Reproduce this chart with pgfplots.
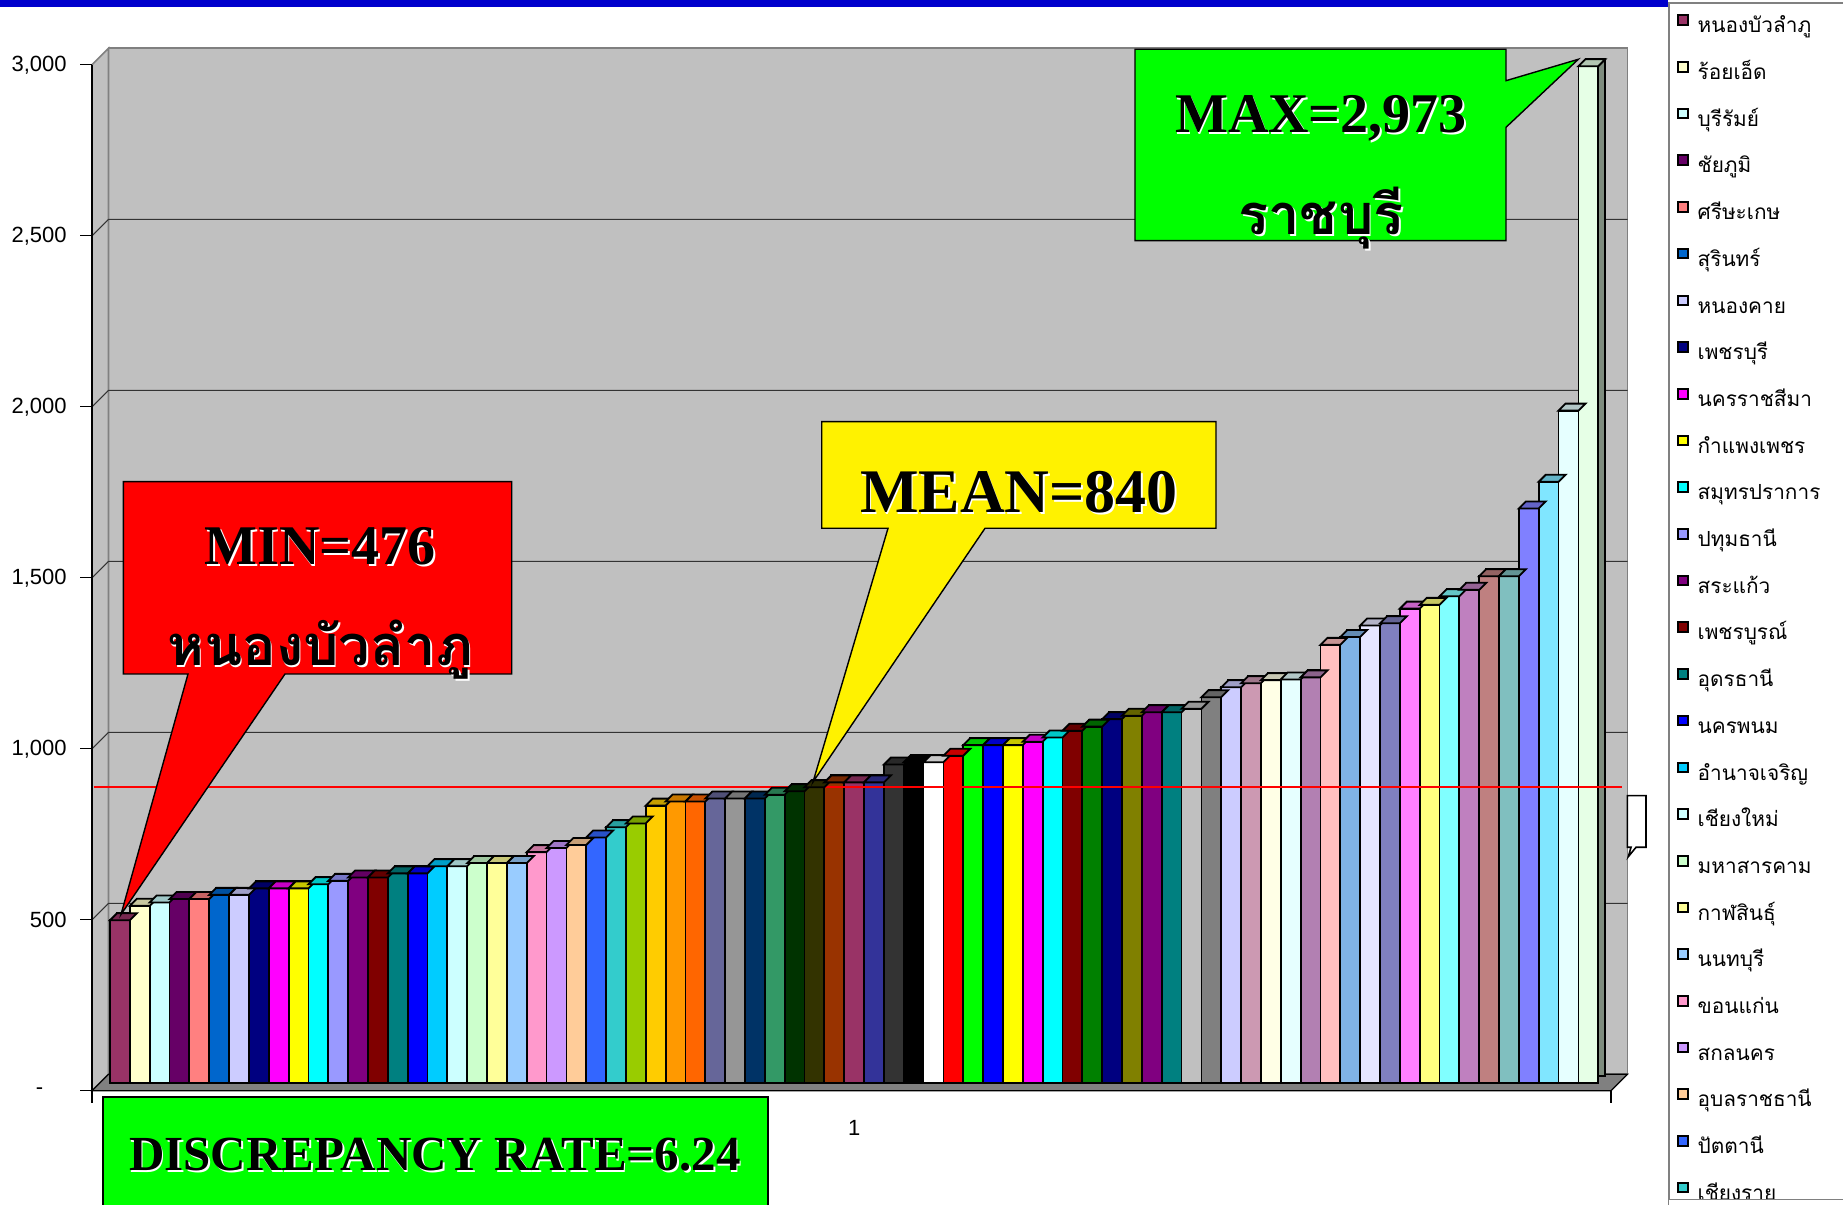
\documentclass[border=0pt]{standalone}
\usepackage{pgfplots}
\pgfplotsset{compat=1.18}
\usepackage{fontspec}
\setmainfont{Liberation Serif}
\newfontfamily\sansf{Liberation Sans}
\newfontfamily\thaif[Script=Thai]{Loma}

% bar face colours (solid, then dotted ones mixed with white)
\newcommand\solid[2]{\definecolor{f#1}{HTML}{#2}}
\newcommand\patt[2]{\definecolor{t#1}{HTML}{#2}\colorlet{f#1}{t#1!50!white}}
\solid{1}{993366}\solid{2}{FFFFCC}\solid{3}{CCFFFF}\solid{4}{660066}\solid{5}{FF8080}
\solid{6}{0066CC}\solid{7}{CCCCFF}\solid{8}{000080}\solid{9}{FF00FF}\solid{10}{FFFF00}
\solid{11}{00FFFF}\solid{12}{9999FF}\solid{13}{800080}\solid{14}{800000}\solid{15}{008080}
\solid{16}{0000FF}\solid{17}{00CCFF}\solid{18}{CCFFFF}\solid{19}{CCFFCC}\solid{20}{FFFF99}
\solid{21}{99CCFF}\solid{22}{FF99CC}\solid{23}{CC99FF}\solid{24}{FFCC99}\solid{25}{3366FF}
\solid{26}{33CCCC}\solid{27}{99CC00}\solid{28}{FFCC00}\solid{29}{FF9900}\solid{30}{FF6600}
\solid{31}{666699}\solid{32}{969696}\solid{33}{003366}\solid{34}{339966}\solid{35}{003300}
\solid{36}{333300}\solid{37}{993300}\solid{38}{993366}\solid{39}{333399}\solid{40}{333333}
\solid{41}{000000}\solid{42}{FFFFFF}\solid{43}{FF0000}\solid{44}{00FF00}\solid{45}{0000FF}
\solid{46}{FFFF00}\solid{47}{FF00FF}\solid{48}{00FFFF}\solid{49}{800000}\solid{50}{008000}
\solid{51}{000080}\solid{52}{808000}\solid{53}{800080}\solid{54}{008080}\solid{55}{C0C0C0}
\solid{56}{808080}
\patt{57}{9999FF}\patt{58}{993366}\patt{59}{FFFFCC}\patt{60}{CCFFFF}\patt{61}{660066}
\patt{62}{FF8080}\patt{63}{0066CC}\patt{64}{CCCCFF}\patt{65}{000080}\patt{66}{FF00FF}
\patt{67}{FFFF00}\patt{68}{00FFFF}\patt{69}{800080}\patt{70}{800000}\patt{71}{008080}
\patt{72}{0000FF}\patt{73}{00CCFF}\patt{74}{CCFFFF}\patt{75}{CCFFCC}
\definecolor{wall}{HTML}{C0C0C0}
\definecolor{floorc}{HTML}{808080}
\definecolor{topblue}{HTML}{0000CC}

% top face of a column, drawn at the column's top centre
\pgfdeclareplotmark{topface}{%
  \pgfpathmoveto{\pgfpoint{-4.961pt}{0pt}}%
  \pgfpathlineto{\pgfpoint{4.961pt}{0pt}}%
  \pgfpathlineto{\pgfpoint{8.461pt}{3.5pt}}%
  \pgfpathlineto{\pgfpoint{-1.461pt}{3.5pt}}%
  \pgfpathclose
  \pgfusepathqfillstroke}

\pgfplotsset{sqlegend/.style={legend image code/.code={%
  \draw[##1,draw=black,line width=1pt] (0pt,0.6pt) rectangle (4.8pt,5.4pt);}}}

% one column: side (shifted back copy), front face, top face
\newcommand\tdbar[2]{%
  \addplot[ybar,bar width=9.922pt,bar shift=0pt,xshift=3.5pt,yshift=3.5pt,
    draw=black,line width=0.9pt,fill=f#1!55!black,forget plot] coordinates {(#1,#2)};
  \addplot[ybar,bar width=9.922pt,bar shift=0pt,draw=black,line width=0.9pt,
    fill=f#1,sqlegend] coordinates {(#1,#2)};
  \addplot[only marks,mark=topface,mark options={draw=black,line width=0.9pt,
    fill=f#1!78!black},forget plot] coordinates {(#1,#2)};
}

% text with a white drop shadow; x, y of the baseline centre in px
\newcommand\stext[4]{%
  \node[anchor=base,inner sep=0pt,text=white,font=#3] at (#1+1.6,#2+1.6) {#4};
  \node[anchor=base,inner sep=0pt,font=#3] at (#1,#2) {#4};}

\begin{document}
\begin{tikzpicture}
% ---- walls, floor and front axis lines (px units, origin top left)
\begin{scope}[x=0.5pt,y=-0.5pt,yshift=602.5pt]
  \filldraw[fill=wall,draw=floorc,line width=0.8pt] (108.5,48.3) rectangle (1627.5,1074.3);
  \filldraw[fill=wall,draw=floorc,line width=0.8pt] (92,1090.8) -- (92,64.8) -- (108.5,48.3) -- (108.5,1074.3) -- cycle;
  \foreach \v in {500,1000,1500,2000,2500} {
    \draw[black!80,line width=0.5pt] (92,1090.8-0.342*\v) -- (108.5,1074.3-0.342*\v) -- (1627.5,1074.3-0.342*\v);
  }
  \filldraw[fill=floorc,draw=black,line width=0.6pt] (92,1090.8) -- (1611,1090.8) -- (1627.5,1074.3) -- (108.5,1074.3) -- cycle;
  \draw[black,line width=0.6pt] (92,64.8) -- (92,1103);
  \draw[black,line width=0.6pt] (1611,1090.8) -- (1611,1103);
  \foreach \v in {0,500,1000,1500,2000,2500,3000} {
    \draw[black,line width=0.6pt] (80,1090.8-0.342*\v) -- (92,1090.8-0.342*\v);
  }
\end{scope}

\begin{axis}[
  at={(50.05pt,61pt)}, anchor=south west,
  scale only axis, width=759pt, height=513pt,
  xmin=0, xmax=76.5, ymin=0, ymax=3000,
  clip=false,
  axis line style={draw=none}, tick style={draw=none},
  ytick={0,500,1000,1500,2000,2500,3000},
  yticklabels={{-\hspace*{11.7pt}},500,{1,000},{1,500},{2,000},{2,500},{3,000}},
  yticklabel style={font=\sansf\fontsize{11}{13}\selectfont,anchor=east,inner sep=0pt,xshift=-16.55pt,yshift=-3.9pt},
  xtick={38}, xticklabels={1},
  xticklabel style={font=\sansf\fontsize{11}{13}\selectfont,anchor=north,inner sep=0pt,yshift=-18.5pt},
  legend cell align=left,
  legend style={at={(1.0329,1.0536)}, anchor=north west, draw=black!50, line width=0.8pt,
    fill=white, inner xsep=4.3pt, inner ysep=0pt, row sep=0pt, column sep=4.3pt,
    font=\thaif\fontsize{10.4}{13}\selectfont,
    nodes={inner sep=0pt,text height=15pt,text depth=8.35pt}},
]
\tdbar{1}{476}\addlegendentry{\makebox[95pt][l]{หนองบัวลำภู}}
\tdbar{2}{518}\addlegendentry{\makebox[95pt][l]{ร้อยเอ็ด}}
\tdbar{3}{528}\addlegendentry{\makebox[95pt][l]{บุรีรัมย์}}
\tdbar{4}{538}\addlegendentry{\makebox[95pt][l]{ชัยภูมิ}}
\tdbar{5}{538}\addlegendentry{\makebox[95pt][l]{ศรีษะเกษ}}
\tdbar{6}{550}\addlegendentry{\makebox[95pt][l]{สุรินทร์}}
\tdbar{7}{550}\addlegendentry{\makebox[95pt][l]{หนองคาย}}
\tdbar{8}{569}\addlegendentry{\makebox[95pt][l]{เพชรบุรี}}
\tdbar{9}{569}\addlegendentry{\makebox[95pt][l]{นครราชสีมา}}
\tdbar{10}{569}\addlegendentry{\makebox[95pt][l]{กำแพงเพชร}}
\tdbar{11}{581}\addlegendentry{\makebox[95pt][l]{สมุทรปราการ}}
\tdbar{12}{591}\addlegendentry{\makebox[95pt][l]{ปทุมธานี}}
\tdbar{13}{601}\addlegendentry{\makebox[95pt][l]{สระแก้ว}}
\tdbar{14}{601}\addlegendentry{\makebox[95pt][l]{เพชรบูรณ์}}
\tdbar{15}{613}\addlegendentry{\makebox[95pt][l]{อุดรธานี}}
\tdbar{16}{613}\addlegendentry{\makebox[95pt][l]{นครพนม}}
\tdbar{17}{634}\addlegendentry{\makebox[95pt][l]{อำนาจเจริญ}}
\tdbar{18}{634}\addlegendentry{\makebox[95pt][l]{เชียงใหม่}}
\tdbar{19}{643}\addlegendentry{\makebox[95pt][l]{มหาสารคาม}}
\tdbar{20}{643}\addlegendentry{\makebox[95pt][l]{กาฬสินธุ์}}
\tdbar{21}{643}\addlegendentry{\makebox[95pt][l]{นนทบุรี}}
\tdbar{22}{675}\addlegendentry{\makebox[95pt][l]{ขอนแก่น}}
\tdbar{23}{687}\addlegendentry{\makebox[95pt][l]{สกลนคร}}
\tdbar{24}{696}\addlegendentry{\makebox[95pt][l]{อุบลราชธานี}}
\tdbar{25}{718}\addlegendentry{\makebox[95pt][l]{ปัตตานี}}
\tdbar{26}{748}\addlegendentry{\makebox[95pt][l]{เชียงราย}}
\tdbar{27}{759}
\tdbar{28}{811}
\tdbar{29}{823}
\tdbar{30}{823}
\tdbar{31}{832}
\tdbar{32}{832}
\tdbar{33}{832}
\tdbar{34}{843}
\tdbar{35}{853}
\tdbar{36}{865}
\tdbar{37}{879}
\tdbar{38}{879}
\tdbar{39}{879}
\tdbar{40}{931}
\tdbar{41}{938}
\tdbar{42}{938}
\tdbar{43}{957}
\tdbar{44}{988}
\tdbar{45}{988}
\tdbar{46}{988}
\tdbar{47}{998}
\tdbar{48}{1010}
\tdbar{49}{1030}
\tdbar{50}{1042}
\tdbar{51}{1064}
\tdbar{52}{1074}
\tdbar{53}{1084}
\tdbar{54}{1084}
\tdbar{55}{1094}
\tdbar{56}{1128}
\tdbar{57}{1157}
\tdbar{58}{1169}
\tdbar{59}{1178}
\tdbar{60}{1180}
\tdbar{61}{1186}
\tdbar{62}{1281}
\tdbar{63}{1304}
\tdbar{64}{1338}
\tdbar{65}{1344}
\tdbar{66}{1387}
\tdbar{67}{1398}
\tdbar{68}{1423}
\tdbar{69}{1442}
\tdbar{70}{1482}
\tdbar{71}{1482}
\tdbar{72}{1680}
\tdbar{73}{1758}
\tdbar{74}{1966}
\tdbar{75}{2973}
% mean line on the back wall
\addplot[red,line width=0.75pt,xshift=4.35pt,yshift=4.35pt,forget plot] coordinates {(-0.75,840) (76.25,840)};
\end{axis}

% ---- callouts (px units, origin top left)
\begin{scope}[x=0.5pt,y=-0.5pt,yshift=602.5pt]
  \fill[topblue] (0,0) rectangle (1668,7);
  % lower edge of the legend frame
  \fill[white] (1669,1200) rectangle (1843,1206);
  \draw[black!50,line width=0.8pt] (1668,1199.5) -- (1843,1199.5);
  % MIN
  \filldraw[fill=red,draw=black,line width=0.7pt,line join=miter]
    (123.3,481.7) -- (511.7,481.7) -- (511.7,674) -- (285,674) -- (121,914.5) -- (188,674) -- (123.3,674) -- cycle;
  \stext{320}{565}{\bfseries\fontsize{28}{32}\selectfont}{MIN=476}
  \stext{320}{666}{\thaif\bfseries\fontsize{28}{34}\selectfont}{หนองบัวลำภู}
  % MEAN
  \filldraw[fill=yellow,draw=black,line width=0.7pt,line join=miter]
    (821.7,421.7) -- (1216,421.7) -- (1216,528.3) -- (985,528.3) -- (813,782) -- (888,528.3) -- (821.7,528.3) -- cycle;
  \stext{1019}{513}{\bfseries\fontsize{31}{35}\selectfont}{MEAN=840}
  % MAX
  \filldraw[fill=green,draw=black,line width=0.7pt,line join=miter]
    (1135,49.3) -- (1506,49.3) -- (1506,80.7) -- (1578.3,59.3) -- (1506,127.3) -- (1506,240.7) -- (1135,240.7) -- cycle;
  \stext{1321}{133}{\bfseries\fontsize{28}{32}\selectfont}{MAX=2,973}
  \stext{1321}{235}{\thaif\bfseries\fontsize{28}{34}\selectfont}{ราชบุรี}
  % discrepancy rate
  \filldraw[fill=green,draw=black,line width=1pt] (102.5,1097) rectangle (767.7,1215);
  \stext{435}{1171}{\bfseries\fontsize{24.5}{28}\selectfont}{DISCREPANCY RATE=6.24}
  % small empty label at the right wall
  \filldraw[fill=white,draw=black,line width=0.8pt,line join=miter]
    (1627.3,795.7) -- (1646,795.7) -- (1646,847.3) -- (1636,847.3) -- (1628.3,856.7) -- (1631,847.3) -- (1627.3,847.3) -- cycle;
\end{scope}
\pgfresetboundingbox
\path (0,0) rectangle (921.5pt,602.5pt);
\end{tikzpicture}
\end{document}
